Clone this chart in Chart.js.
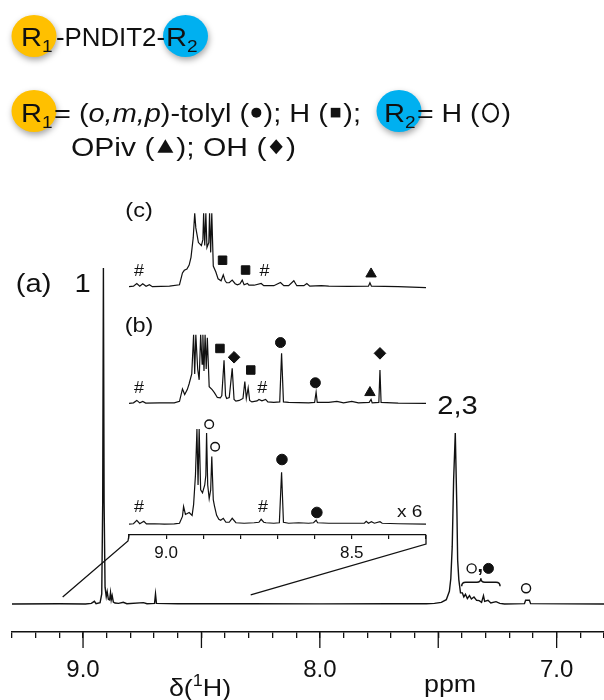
<!DOCTYPE html>
<html>
<head>
<meta charset="utf-8">
<title>R1-PNDIT2-R2 1H NMR</title>
<script src="https://cdn.jsdelivr.net/npm/chart.js@4.4.1/dist/chart.umd.min.js"></script>
<style>
  html, body { margin: 0; padding: 0; background: #fff; }
  #wrap { position: relative; width: 604px; height: 700px; overflow: hidden; }
  canvas { position: absolute; }
  #main { left: 0; top: 0; }
  #inset { left: 109px; top: 180px; }
</style>
</head>
<body>
<div id="wrap">
  <canvas id="main" width="610" height="700"></canvas>
  <canvas id="inset" width="330" height="390"></canvas>
</div>
<script>
// ===== DATA =====
// (a) full spectrum: chemical shift (ppm) / intensity (peak 1 = 100)
const mainPpm = [9.30, 9.10, 8.99, 8.965, 8.952, 8.945, 8.928, 8.921, 8.917, 8.914,
  8.911, 8.907, 8.902, 8.898, 8.893, 8.888, 8.884, 8.881, 8.877, 8.872,
  8.865, 8.85, 8.83, 8.815, 8.745, 8.73, 8.698, 8.694, 8.69, 8.60,
  8.30, 8.00, 7.70, 7.55, 7.516, 7.487, 7.466, 7.453, 7.447, 7.441,
  7.435, 7.428, 7.421, 7.418, 7.413, 7.406, 7.398, 7.392, 7.385, 7.377,
  7.368, 7.360, 7.349, 7.338, 7.327, 7.317, 7.309, 7.304, 7.290, 7.278,
  7.256, 7.24, 7.22, 7.136, 7.131, 7.115, 7.110, 6.80];
const mainInt = [0, 0.1, 0, 0.2, 0.8, 0.1, 0.4, 3, 30, 100,
  30, 5, 2.2, 3.7, 1.4, 1.2, 3.4, 1.2, 2.5, 0.6,
  0.3, 0.2, 0.5, 0.1, 0.4, 0.1, 0.2, 3.0, 0.2, 0.1,
  0.1, 0.05, 0.1, 0.1, 0.2, 0.5, 1.3, 3.8, 7.5, 17,
  37, 50.9, 27, 13, 7.2, 3.3, 3.3, 2.1, 2.9, 1.6,
  2.5, 1.5, 2.1, 1.1, 1.0, 0.5, 2.5, 0.8, 1.1, 0.3,
  0.7, 0.2, 0, 0.1, 1.1, 1.1, 0.1, 0];

// inset, bottom trace: (a) x 6
const tracePpmA = [9.100, 9.088, 9.079, 9.071, 9.060, 9.053, 9.031, 9.005, 8.978, 8.964,
  8.956, 8.953, 8.948, 8.943, 8.938, 8.930, 8.926, 8.921, 8.917, 8.914,
  8.911, 8.907, 8.902, 8.896, 8.893, 8.891, 8.888, 8.884, 8.880, 8.877,
  8.873, 8.870, 8.864, 8.858, 8.853, 8.846, 8.839, 8.830, 8.822, 8.812,
  8.790, 8.763, 8.750, 8.744, 8.737, 8.731, 8.710, 8.695, 8.689, 8.684,
  8.670, 8.643, 8.616, 8.603, 8.596, 8.592, 8.562, 8.509, 8.466, 8.461,
  8.455, 8.447, 8.439, 8.424, 8.418, 8.375, 8.300];
const traceIntA = [0, 0.5, 4, 0.5, 3, 0.3, 0.5, 0, 0.3, 1,
  8, 18, 10, 11, 12, 9, 20, 50, 97, 40,
  97, 35, 32, 40, 50, 93, 40, 26, 35, 69,
  25, 19, 9, 5, 4, 6, 2, 2, 6, 1.5,
  1, 1.5, 2, 5, 2, 1.5, 1, 1.5, 53, 2,
  1, 1.5, 1, 1.5, 4, 1.5, 1, 1, 1, 3,
  1, 2.5, 1, 2.5, 1, 0.5, 0];

// inset, middle trace (b)
const tracePpmB = [9.100, 9.088, 9.079, 9.071, 9.063, 9.055, 9.018, 8.978, 8.964, 8.956,
  8.950, 8.943, 8.938, 8.931, 8.926, 8.923, 8.920, 8.915, 8.911, 8.907,
  8.903, 8.901, 8.898, 8.895, 8.892, 8.889, 8.884, 8.876, 8.870, 8.862,
  8.854, 8.850, 8.844, 8.840, 8.837, 8.830, 8.822, 8.817, 8.812, 8.803,
  8.793, 8.788, 8.784, 8.779, 8.775, 8.769, 8.755, 8.750, 8.742, 8.732,
  8.726, 8.710, 8.694, 8.689, 8.684, 8.670, 8.616, 8.600, 8.596, 8.593,
  8.562, 8.540, 8.522, 8.500, 8.482, 8.453, 8.448, 8.445, 8.427, 8.424,
  8.421, 8.375, 8.300];
const traceIntB = [0, 0.5, 3, 0.5, 2, 0.3, 0.5, 0.5, 2, 14.7,
  9, 14, 20, 30, 70, 30, 70, 35, 24, 70,
  40, 70, 33, 70, 35, 67, 17, 14, 11, 6,
  5.5, 8, 44, 8, 5, 6, 35.7, 4, 2.3, 3,
  5, 22.3, 5, 15.7, 3, 1.5, 2.5, 4, 2.5, 4,
  1.5, 1, 1.5, 51, 1.5, 1, 0.5, 1, 11.3, 1,
  1, 2, 0.5, 2, 0.5, 1, 4, 0.5, 1, 34,
  1, 0.3, 0];

// inset, top trace (c)
const tracePpmC = [9.100, 9.088, 9.079, 9.071, 9.063, 9.054, 9.045, 9.037, 8.991, 8.964,
  8.956, 8.951, 8.944, 8.938, 8.933, 8.927, 8.923, 8.920, 8.913, 8.905,
  8.901, 8.899, 8.896, 8.893, 8.890, 8.885, 8.883, 8.880, 8.877, 8.873,
  8.866, 8.860, 8.852, 8.846, 8.841, 8.837, 8.830, 8.822, 8.814, 8.808,
  8.801, 8.795, 8.790, 8.781, 8.777, 8.763, 8.744, 8.737, 8.710, 8.692,
  8.683, 8.670, 8.656, 8.648, 8.629, 8.621, 8.613, 8.582, 8.562, 8.509,
  8.455, 8.451, 8.447, 8.375, 8.300];
const traceIntC = [0, 0.5, 3.3, 0.5, 3, 0.5, 2, 0, 0.5, 2,
  14, 16.7, 18, 22, 30, 50, 75, 60, 45, 42,
  48, 75, 42, 75, 40, 45, 75, 35, 75, 21,
  15, 8, 6, 12, 6, 4, 4, 6.7, 3, 2,
  3, 6.7, 2, 3.3, 1.5, 1.5, 3.3, 1, 1, 4.3,
  1, 1, 6, 1, 1, 3.3, 0.5, 1, 0.5, 0.3,
  0.5, 4, 0.5, 0, -1];

// peak assignments [ppm, height] : o = R2 H, dot = tolyl, sq = H, tri = OPiv, dia = OH
const markOpenA = [[8.884, 102], [8.868, 79]];
const markDotA = [[8.688, 66], [8.594, 12]];
const markSqB = [[8.855, 56], [8.772, 34]];
const markDiaB = [[8.817, 47], [8.424, 51]];
const markDotB = [[8.692, 62], [8.598, 21]];
const markTriB = [[8.451, 11]];
const markSqC = [[8.848, 27], [8.786, 17]];
const markTriC = [[8.448, 13]];
const hashA = [[9.073, 16.7], [8.739, 16.7]];
const hashB = [[9.073, 14.7], [8.741, 14.7]];
const hashC = [[9.073, 15.7], [8.735, 15.7]];
const mainOpen = [[7.359, 10.6], [7.129, 4.7]];
const mainDot = [[7.288, 10.6]];

// axis ticks
const mainRange = [6.8, 9.3];
const insetRange = [8.3, 9.1];
const majorTicks = [9.0, 8.5, 8.0, 7.5, 7.0];

// ===== STYLE =====
const FONT = "'Liberation Sans', Arial, Helvetica, sans-serif";
const INK = '#111111';
const ORANGE = '#FFC000';
const BLUE = '#00B0F0';
const STRETCH = 1.12;
const SYM_ADV = { dot: 13, sq: 14, tri: 19, dia: 17, ring: 20 };

const toXY = (xs, ys) => xs.map((x, i) => ({ x: x, y: ys[i] }));
const pairs = (arr) => arr.map(p => ({ x: p[0], y: p[1] }));

function drawSym(ctx, sym, x, y) {
  ctx.beginPath();
  if (sym === 'dot') { ctx.arc(x, y, 5, 0, 2 * Math.PI); ctx.fill(); }
  else if (sym === 'sq') { ctx.fillRect(x - 4.8, y - 4.8, 9.6, 9.6); }
  else if (sym === 'tri') { ctx.moveTo(x, y - 7.5); ctx.lineTo(x + 8, y + 6); ctx.lineTo(x - 8, y + 6); ctx.closePath(); ctx.fill(); }
  else if (sym === 'dia') { ctx.moveTo(x, y - 7.5); ctx.lineTo(x + 6.5, y); ctx.lineTo(x, y + 7.5); ctx.lineTo(x - 6.5, y); ctx.closePath(); ctx.fill(); }
  else if (sym === 'ring') { ctx.lineWidth = 2; ctx.ellipse(x, y, 7.5, 9, 0, 0, 2 * Math.PI); ctx.stroke(); }
}

function smallFont(size) { return Math.round(size * 0.65) + 'px ' + FONT; }

// a part is a plain string, or {i}, {sub}, {sup}, {sym}
function partInfo(p, size) {
  if (typeof p === 'string') return { t: p, f: size + 'px ' + FONT, dy: 0 };
  if (p.i !== undefined) return { t: p.i, f: 'italic ' + size + 'px ' + FONT, dy: 0 };
  if (p.sub !== undefined) return { t: p.sub, f: smallFont(size), dy: size * 0.22 };
  if (p.sup !== undefined) return { t: p.sup, f: smallFont(size), dy: -size * 0.4 };
  return { sym: p.sym };
}

function drawParts(ctx, parts, x, base, size, fitWidth, align) {
  const info = parts.map(p => partInfo(p, size));
  const ws = info.map(q => {
    if (q.sym) return SYM_ADV[q.sym];
    ctx.font = q.f; return ctx.measureText(q.t).width;
  });
  const natural = ws.reduce((a, b) => a + b, 0);
  const s = fitWidth ? fitWidth / natural : STRETCH;
  let cx = align === 'center' ? x - natural * s / 2 : x;
  ctx.fillStyle = INK; ctx.strokeStyle = INK;
  ctx.textAlign = 'left'; ctx.textBaseline = 'alphabetic';
  info.forEach((q, k) => {
    const w = ws[k] * s;
    if (q.sym) {
      drawSym(ctx, q.sym, cx + w / 2, base - size * 0.36);
    } else {
      ctx.font = q.f;
      ctx.save(); ctx.translate(cx, base + q.dy); ctx.scale(s, 1); ctx.fillText(q.t, 0, 0); ctx.restore();
    }
    cx += w;
  });
}

function label(ctx, text, x, y, size) {
  ctx.save();
  ctx.font = size + 'px ' + FONT;
  ctx.fillStyle = INK; ctx.textAlign = 'center'; ctx.textBaseline = 'middle';
  ctx.translate(x, y); ctx.scale(STRETCH, 1);
  ctx.fillText(text, 0, 0);
  ctx.restore();
}

function blob(ctx, cx, cy, color) {
  ctx.save();
  ctx.shadowColor = 'rgba(0,0,0,0.35)'; ctx.shadowBlur = 6;
  ctx.shadowOffsetX = 1; ctx.shadowOffsetY = 3;
  ctx.fillStyle = color;
  ctx.beginPath(); ctx.ellipse(cx, cy, 22.5, 21, 0, 0, 2 * Math.PI); ctx.fill();
  ctx.restore();
}

function drawHeader(ctx) {
  blob(ctx, 34, 36, ORANGE); blob(ctx, 185.5, 36, BLUE);
  blob(ctx, 34, 111, ORANGE); blob(ctx, 399, 111, BLUE);
  drawParts(ctx, ['R', { sub: '1' }], 21, 46, 26);
  drawParts(ctx, ['-PNDIT2-'], 56, 46, 26, 109);
  drawParts(ctx, ['R', { sub: '2' }], 166, 46, 26);
  drawParts(ctx, ['R', { sub: '1' }], 21, 122, 26);
  drawParts(ctx, ['= (', { i: 'o,m,p' }, ')-tolyl (', { sym: 'dot' }, '); H (', { sym: 'sq' }, ');'], 54, 122, 26, 307);
  drawParts(ctx, ['R', { sub: '2' }], 384, 122, 26);
  drawParts(ctx, ['= H (', { sym: 'ring' }, ')'], 417, 122, 26, 94);
  drawParts(ctx, ['OPiv (', { sym: 'tri' }, '); OH (', { sym: 'dia' }, ')'], 71, 156, 26, 225);
}

function trace(xs, ys, yID) {
  return { data: toXY(xs, ys), yAxisID: yID, showLine: true, borderColor: INK,
           borderWidth: 1.2, pointRadius: 0, tension: 0 };
}
function marks(pts, yID, style, r, filled) {
  return { data: pairs(pts), yAxisID: yID, showLine: false, pointStyle: style, pointRadius: r,
           pointBorderWidth: filled ? 1 : 1.4, pointBackgroundColor: filled ? INK : '#fff',
           pointBorderColor: INK, clip: false };
}
// keep the plot area exactly on the layout padding (no room reserved for edge labels)
function fixHeight(h) {
  return s => { s.height = h; s.paddingLeft = 0; s.paddingRight = 0; };
}

// ===== INSET (expanded 9.1 - 8.3 ppm) =====
const insetDecor = {
  id: 'insetDecor',
  afterDatasetsDraw(chart) {
    const ctx = chart.ctx, X = v => chart.scales.x.getPixelForValue(v);
    const Y = (id, v) => chart.scales[id].getPixelForValue(v);
    ctx.save();
    [['ya', hashA], ['yb', hashB], ['yc', hashC]].forEach(([id, list]) => {
      list.forEach(h => label(ctx, '#', X(h[0]), Y(id, h[1]), 16));
    });
    label(ctx, '(c)', X(9.073), Y('yc', 76.7), 21);
    label(ctx, '(b)', X(9.073), Y('yb', 78.7), 21);
    label(ctx, 'x 6', X(8.344), Y('ya', 12.3), 17);
    ctx.restore();
  }
};

const inset = new Chart(document.getElementById('inset'), {
  type: 'scatter',
  data: {
    datasets: [
      trace(tracePpmC, traceIntC, 'yc'),
      trace(tracePpmB, traceIntB, 'yb'),
      trace(tracePpmA, traceIntA, 'ya'),
      marks(markSqC, 'yc', 'rect', 6, true),
      marks(markTriC, 'yc', 'triangle', 6, true),
      marks(markSqB, 'yb', 'rect', 6, true),
      marks(markDiaB, 'yb', 'rectRot', 5.8, true),
      marks(markDotB, 'yb', 'circle', 5, true),
      marks(markTriB, 'yb', 'triangle', 6, true),
      marks(markOpenA, 'ya', 'circle', 4.3, false),
      marks(markDotA, 'ya', 'circle', 5.3, true)
    ]
  },
  options: {
    responsive: false, animation: false, events: [],
    layout: { padding: { left: 20, right: 13, top: 0, bottom: 0 } },
    plugins: { legend: { display: false }, tooltip: { enabled: false } },
    scales: {
      x: {
        type: 'linear', reverse: true, min: insetRange[0], max: insetRange[1],
        afterFit: fixHeight(35),
        ticks: {
          stepSize: 0.1, maxTicksLimit: 1000, autoSkip: false, maxRotation: 0, padding: 4,
          color: INK, font: { family: FONT, size: 17 },
          callback: v => (Math.abs(v * 2 - Math.round(v * 2)) < 1e-6 ? v.toFixed(1) : '')
        },
        grid: { drawOnChartArea: false, tickLength: 4, color: INK, lineWidth: 1.2 },
        border: { color: INK, width: 1.3 }
      },
      ya: { axis: 'y', display: false, min: -11, max: 344 },
      yb: { axis: 'y', display: false, min: -134.3, max: 220.7 },
      yc: { axis: 'y', display: false, min: -253.3, max: 101.7 }
    }
  },
  plugins: [insetDecor]
});

// ===== MAIN SPECTRUM =====
const mainDecor = {
  id: 'mainDecor',
  afterDraw(chart) {
    const ctx = chart.ctx, xs = chart.scales.x, ys = chart.scales.y;
    const X = v => xs.getPixelForValue(v), Y = v => ys.getPixelForValue(v);
    const bottom = chart.chartArea.bottom;
    ctx.save();
    drawHeader(ctx);

    ctx.strokeStyle = INK; ctx.lineWidth = 1.3;
    majorTicks.forEach(v => {
      ctx.beginPath(); ctx.moveTo(X(v), bottom); ctx.lineTo(X(v), bottom + 16); ctx.stroke();
    });

    // zoom connectors from the inset axis ends down to the main trace
    const ia = inset.chartArea, ox = inset.canvas.offsetLeft, oy = inset.canvas.offsetTop;
    const axisY = oy + ia.bottom;
    ctx.lineWidth = 1.3;
    ctx.beginPath();
    ctx.moveTo(ox + ia.left, axisY); ctx.lineTo(ox + ia.left - 1, axisY + 6);
    ctx.lineTo(X(9.086), Y(2.1));
    ctx.moveTo(ox + ia.right, axisY); ctx.lineTo(ox + ia.right, axisY + 9);
    ctx.lineTo(X(8.292), Y(2.7));
    ctx.stroke();

    label(ctx, '(a)', X(9.209), Y(94.9), 26);
    label(ctx, '1', X(9.002), Y(94.9), 26);
    label(ctx, '2,3', X(7.419), Y(58.6), 26);

    // brace over the small aromatic multiplets
    const x0 = X(7.401), x1 = X(7.239), xm = X(7.32), yb = Y(6.5);
    ctx.lineWidth = 1.5;
    ctx.beginPath();
    ctx.moveTo(x0, yb + 4);
    ctx.quadraticCurveTo(x0, yb, x0 + 4, yb);
    ctx.lineTo(xm - 4, yb);
    ctx.quadraticCurveTo(xm, yb, xm, yb - 4);
    ctx.quadraticCurveTo(xm, yb, xm + 4, yb);
    ctx.lineTo(x1 - 4, yb);
    ctx.quadraticCurveTo(x1, yb, x1, yb + 4);
    ctx.stroke();
    ctx.font = 'bold 20px ' + FONT; ctx.fillStyle = INK; ctx.textAlign = 'center'; ctx.textBaseline = 'alphabetic';
    ctx.fillText(',', X(7.323), Y(9.5));

    drawParts(ctx, ['\u03b4(', { sup: '1' }, 'H)'], X(8.506), bottom + 64, 24, null, 'center');
    drawParts(ctx, ['ppm'], X(7.45), bottom + 60, 24, null, 'center');
    ctx.restore();
  }
};

new Chart(document.getElementById('main'), {
  type: 'scatter',
  data: {
    datasets: [
      { data: toXY(mainPpm, mainInt), showLine: true, borderColor: INK, borderWidth: 1.4,
        pointRadius: 0, tension: 0 },
      { data: pairs(mainOpen), showLine: false, pointStyle: 'circle', pointRadius: 4.5,
        pointBorderWidth: 1.4, pointBackgroundColor: '#fff', pointBorderColor: INK, clip: false },
      { data: pairs(mainDot), showLine: false, pointStyle: 'circle', pointRadius: 5,
        pointBackgroundColor: INK, pointBorderColor: INK, clip: false }
    ]
  },
  options: {
    responsive: false, animation: false, events: [],
    layout: { padding: { left: 12, right: 0, top: 170, bottom: 0 } },
    plugins: { legend: { display: false }, tooltip: { enabled: false } },
    scales: {
      x: {
        type: 'linear', reverse: true, min: mainRange[0], max: mainRange[1],
        afterFit: fixHeight(68),
        ticks: {
          stepSize: 0.1, maxTicksLimit: 1000, autoSkip: false, maxRotation: 0, padding: 18,
          color: INK, font: { family: FONT, size: 24 },
          callback: v => (Math.abs(v - Math.round(v)) < 1e-6 ? v.toFixed(1) : '')
        },
        grid: { drawOnChartArea: false, tickLength: 6, color: INK, lineWidth: 1.3 },
        border: { color: INK, width: 1.5 }
      },
      y: { display: false, min: -8.33, max: 129.17 }
    }
  },
  plugins: [mainDecor]
});
</script>
</body>
</html>
